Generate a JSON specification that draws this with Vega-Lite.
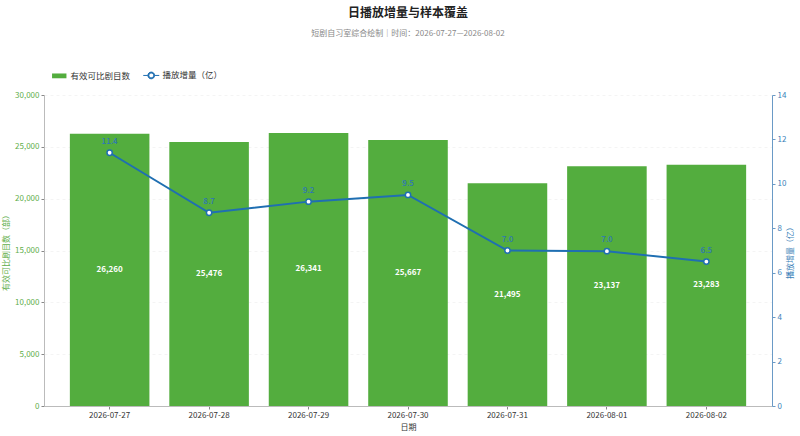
{
  "$schema": "https://vega.github.io/schema/vega-lite/v6.json",
  "autosize": {"type": "fit", "contains": "padding"},
  "width": 800,
  "height": 436,
  "padding": {"left": 2, "right": 5, "top": 7, "bottom": 5},
  "background": "#ffffff",
  "config": {
    "font": "Noto Sans CJK SC",
    "view": {"stroke": null},
    "axis": {"labelFont": "Noto Sans CJK SC", "titleFont": "Noto Sans CJK SC"}
  },
  "title": {
    "text": "日播放增量与样本覆盖",
    "subtitle": "短剧自习室综合绘制｜时间：2026-07-27—2026-08-02",
    "fontSize": 12,
    "fontWeight": "bold",
    "color": "#222222",
    "subtitleFontSize": 8,
    "subtitleColor": "#888888",
    "subtitlePadding": 10,
    "anchor": "middle",
    "offset": 52
  },
  "data": {
    "values": [
      {"date": "2026-07-27", "count": 26260, "play": 11.4},
      {"date": "2026-07-28", "count": 25476, "play": 8.7},
      {"date": "2026-07-29", "count": 26341, "play": 9.2},
      {"date": "2026-07-30", "count": 25667, "play": 9.5},
      {"date": "2026-07-31", "count": 21495, "play": 7.0},
      {"date": "2026-08-01", "count": 23137, "play": 6.97},
      {"date": "2026-08-02", "count": 23283, "play": 6.5}
    ]
  },
  "encoding": {
    "x": {
      "field": "date",
      "type": "nominal",
      "sort": null,
      "scale": {"paddingInner": 0.2, "paddingOuter": 0.26},
      "axis": {
        "title": "日期",
        "labelAngle": 0,
        "labelFontSize": 8,
        "labelColor": "#333333",
        "labelPadding": 2,
        "titleFontSize": 8,
        "titleColor": "#333333",
        "titleFontWeight": "normal",
        "titlePadding": 4,
        "domainColor": "#bbbbbb",
        "tickColor": "#888888",
        "tickSize": 3,
        "grid": false
      }
    }
  },
  "layer": [
    {
      "mark": {"type": "bar", "fill": "#53ad3e"},
      "encoding": {
        "y": {
          "field": "count",
          "type": "quantitative",
          "scale": {"domain": [0, 30000]},
          "axis": {
            "title": "有效可比剧目数（部）",
            "titleAngle": 270,
            "values": [0, 5000, 10000, 15000, 20000, 25000, 30000],
            "format": ",.0f",
            "labelFontSize": 8,
            "labelPadding": 2,
            "labelColor": "#5fae4a",
            "titleColor": "#5fae4a",
            "titleFontSize": 8,
            "titleFontWeight": "normal",
            "titlePadding": 4,
            "domainColor": "#bbbbbb",
            "tickColor": "#888888",
            "tickSize": 3,
            "grid": true,
            "gridColor": "#ececec",
            "gridDash": [3, 3],
            "gridOpacity": 0.6
          }
        },
        "color": {
          "datum": "有效可比剧目数",
          "scale": {"domain": ["有效可比剧目数", "播放增量（亿）"], "range": ["#53ad3e", "#1f6fb2"]},
          "legend": {
            "title": null,
            "orient": "none",
            "legendX": 9,
            "legendY": -26,
            "direction": "horizontal",
            "padding": 2,
            "labelFontSize": 8.5,
            "labelColor": "#333333",
            "symbolSize": 256,
            "columnPadding": 10,
            "labelOffset": 7,
            "encode": {
              "symbols": {
                "update": {
                  "shape": {"signal": "datum.value === '有效可比剧目数' ? 'M-0.9,-0.3H0.9V0.3H-0.9Z' : 'M-1,0H-0.42M0.42,0H1M-0.42,0A0.42,0.42 0 1,1 0.42,0A0.42,0.42 0 1,1 -0.42,0ZM-0.3,0A0.3,0.3 0 1,0 0.3,0A0.3,0.3 0 1,0 -0.3,0Z'"},
                  "size": {"value": 256},
                  "stroke": {"signal": "datum.value === '有效可比剧目数' ? '#53ad3e' : '#1f6fb2'"},
                  "strokeWidth": {"signal": "datum.value === '有效可比剧目数' ? 0 : 1"},
                  "opacity": {"value": 1},
                  "fillOpacity": {"value": 1},
                  "strokeOpacity": {"value": 1}
                }
              }
            }
          }
        }
      }
    },
    {
      "encoding": {
        "y": {
          "field": "play",
          "type": "quantitative",
          "scale": {"domain": [0, 14]},
          "axis": {
            "orient": "right",
            "title": "播放增量（亿）",
            "titleAngle": 270,
            "values": [0, 2, 4, 6, 8, 10, 12, 14],
            "labelFontSize": 8,
            "labelPadding": 2,
            "labelColor": "#3b7fb8",
            "titleColor": "#3b7fb8",
            "titleFontSize": 8,
            "titleFontWeight": "normal",
            "titlePadding": 9,
            "domainColor": "#6a9ac6",
            "tickColor": "#6a9ac6",
            "tickSize": 3,
            "grid": false
          }
        }
      },
      "layer": [
        {
          "mark": {"type": "line", "strokeWidth": 2},
          "encoding": {"color": {"datum": "播放增量（亿）"}}
        },
        {
          "mark": {"type": "point", "filled": true, "fill": "#ffffff", "stroke": "#1f6fb2", "strokeWidth": 1.5, "size": 28, "opacity": 1},
          "encoding": {}
        },
        {
          "mark": {"type": "text", "dy": -11, "fontSize": 8, "fontWeight": 500, "color": "#2d76b6"},
          "encoding": {"text": {"field": "play", "type": "quantitative", "format": ".1f"}}
        }
      ]
    },
    {
      "mark": {"type": "text", "fontSize": 8, "fontWeight": "bold", "color": "#ffffff"},
      "encoding": {
        "y": {"field": "count", "type": "quantitative", "scale": {"domain": [0, 60000]}, "axis": null},
        "text": {"field": "count", "type": "quantitative", "format": ","}
      }
    }
  ],
  "resolve": {"scale": {"y": "independent"}, "axis": {"y": "independent"}}
}
